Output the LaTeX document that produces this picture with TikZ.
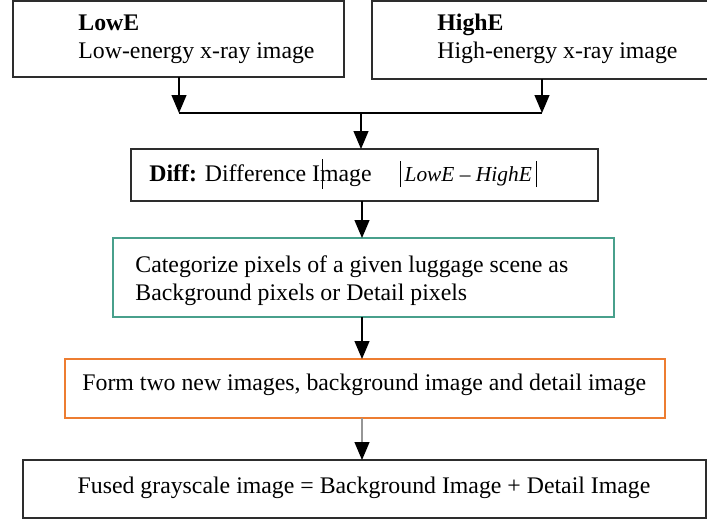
\documentclass[tikz,border=0pt]{standalone}
\usepackage{fontspec}
\setmainfont{Liberation Serif}
\usetikzlibrary{arrows.meta}
\definecolor{boxgray}{RGB}{45,45,45}
\definecolor{tealb}{RGB}{72,160,140}
\definecolor{orangeb}{RGB}{237,125,49}
\definecolor{shaftgray}{RGB}{150,150,150}
\begin{document}
\begin{tikzpicture}[x=0.5pt,y=-0.5pt,
  box/.style={draw=boxgray, line width=0.9pt, inner sep=0pt, outer sep=0pt, anchor=north west},
  txt/.style={anchor=base west, inner sep=0pt, font=\fontsize{11.9}{14}\selectfont},
  arr/.style={-{Triangle[length=9pt,width=7.5pt]}, line width=0.6pt, black},
  plainline/.style={line width=0.6pt, black},
]
\useasboundingbox (0,0) rectangle (707,520);
% boxes
\node[box, minimum width=165.5pt, minimum height=38pt] (lowE) at (13,1) {};
\node[box, minimum width=170pt, minimum height=39pt] (highE) at (372,1) {};
\node[box, minimum width=233.5pt, minimum height=26pt] (diff) at (131,149) {};
\node[box, draw=tealb, minimum width=250.5pt, minimum height=39.5pt] (cat) at (113,238) {};
\node[box, draw=orangeb, minimum width=300pt, minimum height=29.5pt] (form) at (65,359) {};
\node[box, minimum width=341.5pt, minimum height=29pt] (fused) at (23,460) {};
% texts
\node[txt] (lowEa) at (78,30) {\textbf{LowE}};
\node[txt] (lowEb) at (78,58) {Low-energy x-ray image};
\node[txt] (highEa) at (437,30) {\textbf{HighE}};
\node[txt] (highEb) at (437,58) {High-energy x-ray image};
\node[txt] (difft) at (149,181) {\textbf{Diff:} Difference I\rlap{\kern0.8pt\rule[-4pt]{0.9pt}{15pt}}mage\hspace{14pt}\rule[-3pt]{0.5pt}{13pt}\kern2pt{\fontsize{10.7}{13}\selectfont\itshape LowE – HighE}\kern2pt\rule[-3pt]{0.5pt}{13pt}};
\node[txt] (cata) at (135,272) {Categorize pixels of a given luggage scene as};
\node[txt] (catb) at (135,300) {Background pixels or Detail pixels};
\node[txt] (formt) at (82,390) {Form two new images, background image and detail image};
\node[txt, anchor=base] (fusedt) at (364,493) {Fused grayscale image = Background Image + Detail Image};
% connectors
\coordinate (hL) at (179,113);
\coordinate (hR) at (542,113);
\coordinate (hM) at (361,113);
\coordinate (col) at (362,0);
\draw[arr] (lowE.south -| hL) -- (hL);
\draw[arr] (highE.south -| hR) -- (hR);
\draw[plainline] (hL) -- (hR);
\draw[arr] (hM) -- (diff.north -| hM);
\draw[arr] (diff.south -| col) -- (cat.north -| col);
\draw[arr] (cat.south -| col) -- (form.north -| col);
\draw[-{Triangle[length=9pt,width=7.5pt,color=black]}, line width=0.6pt, draw=shaftgray] (form.south -| col) -- (fused.north -| col);
\end{tikzpicture}
\end{document}
